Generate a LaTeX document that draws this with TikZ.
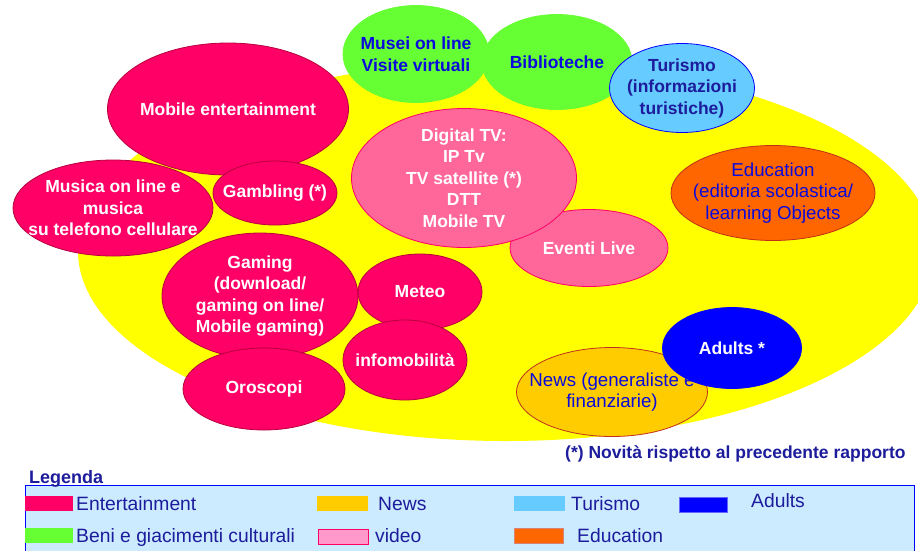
\documentclass[tikz,border=0pt]{standalone}
\usepackage{fontspec}
\setmainfont{Liberation Sans}
\usetikzlibrary{shapes.geometric}

\definecolor{ent}{HTML}{FF0066}
\definecolor{entline}{HTML}{B8003C}
\definecolor{vid}{HTML}{FF6699}
\definecolor{vidlight}{HTML}{FF99CC}
\definecolor{cult}{HTML}{66FF33}
\definecolor{tur}{HTML}{66CCFF}
\definecolor{edu}{HTML}{FF6600}
\definecolor{eduline}{HTML}{C0301A}
\definecolor{news}{HTML}{FFCC00}
\definecolor{newsline}{HTML}{C03020}
\definecolor{adu}{HTML}{0000FF}
\definecolor{field}{HTML}{FFFF00}
\definecolor{inkblue}{HTML}{0A0ADC}
\definecolor{navy}{HTML}{1C1C9C}
\definecolor{legfill}{HTML}{CCEBFF}

\newcommand\bubtext{\fontsize{17.5}{21.5}\selectfont\bfseries}
\newcommand\bubplain{\fontsize{18.7}{21.2}\selectfont}
\newcommand\legtext{\fontsize{19.3}{20}\selectfont}

% bubble: style, name, centre, width, height, text
\newcommand\bubble[6]{%
  \node[#1, esize={#4}{#5}] (#2) at (#3) {};
  \node[#1, draw=none, fill=none, minimum width=0pt, minimum height=0pt]
    (#2-text) at (#2.center) {#6};}

\begin{document}
\begin{tikzpicture}[x=1pt,y=-1pt,
  bub/.style={ellipse, inner sep=0pt, outer sep=0pt, align=center, font=\bubtext, line width=0.8pt},
  esize/.style 2 args={minimum width=#1pt, minimum height=#2pt},
  entb/.style={bub, fill=ent, draw=entline, text=white},
  vidb/.style={bub, fill=vid, draw=ent, text=white},
  cultb/.style={bub, fill=cult, draw=cult, text=inkblue},
  turb/.style={bub, fill=tur, draw=adu, text=navy},
  edub/.style={bub, fill=edu, draw=eduline, text=inkblue, font=\bubplain},
  newsb/.style={bub, fill=news, draw=newsline, text=inkblue, font=\bubplain},
  adub/.style={bub, fill=adu, draw=adu, text=white},
  swatch/.style={rectangle, inner sep=0pt, minimum width=48pt, minimum height=15pt, anchor=north west},
  legitem/.style={anchor=base west, inner sep=0pt, font=\legtext, text=navy}]

\useasboundingbox (0,0) rectangle (918,550);
\fill[white] (0,0) rectangle (918,550);

% yellow field behind the bubbles
\begin{scope}
  \clip (0,0) rectangle (918,550);
  \fill[field] (506,251) ellipse [x radius=428, y radius=190];
\end{scope}

% entertainment bubbles
\bubble{entb}{mobile}{228,109}{241}{132}{Mobile entertainment}
\bubble{entb}{musica}{113,208}{200}{96}{Musica on line e\\musica\\su telefono cellulare}
\bubble{entb}{gambling}{275,193}{124}{64}{Gambling (*)}
\bubble{entb}{gaming}{260,296}{196}{126}{Gaming\\(download/\\gaming on line/\\Mobile gaming)}
\bubble{entb}{meteo}{420,292}{124}{76}{Meteo}
\bubble{entb}{infomob}{405,360}{124}{80}{infomobilità}
\bubble{entb}{oroscopi}{264,389}{162}{82}{Oroscopi}

% cultural heritage bubbles
\bubble{cultb}{musei}{416,54}{146}{97}{Musei on line\\Visite virtuali}
\bubble{cultb}{biblio}{557,62}{150}{95}{Biblioteche}

% tourism
\bubble{turb}{turismo}{682,88}{145}{89}{Turismo\\(informazioni\\turistiche)}

% education
\bubble{edub}{education}{773,193}{204}{95}{Education\\(editoria scolastica/\\learning Objects}

% video
\bubble{vidb}{eventi}{589,248}{158}{77}{Eventi Live}
\bubble{vidb}{digitaltv}{464,178}{225}{139}{Digital TV:\\IP Tv\\TV satellite (*)\\DTT\\Mobile TV}

% news and adults
\bubble{newsb}{newsbub}{612,392}{191}{89}{News (generaliste e\\finanziarie)}
\bubble{adub}{adults}{732,348}{139}{81}{Adults *}

% footnote
\node[anchor=base west, inner sep=0pt, font=\bubtext, text=navy] (note) at (565,458)
  {(*) Novità rispetto al precedente rapporto};

% legend
\node[draw=adu, fill=legfill, line width=1pt, anchor=north west, inner sep=0pt,
      minimum width=889pt, minimum height=80pt] (legbox) at (24.6,485) {};
\node[anchor=base west, inner sep=0pt, font=\fontsize{18}{18}\selectfont\bfseries, text=navy]
  (legtitle) at (29,483) {Legenda};

\node[swatch, fill=ent] (swent) at (24.6,496) {};
\node[legitem] (lent) at (76,510) {Entertainment};
\node[swatch, fill=news, minimum width=51pt] (swnews) at (317,496) {};
\node[legitem] (lnews) at (378,510) {News};
\node[swatch, fill=tur, minimum width=51pt] (swtur) at (514,496) {};
\node[legitem] (ltur) at (571,510) {Turismo};
\node[swatch, fill=adu, draw=adu!60, line width=1pt] (swadu) at (679,497) {};
\node[legitem] (ladu) at (751,507) {Adults};

\node[swatch, fill=cult] (swcult) at (24.6,528) {};
\node[legitem] (lcult) at (76,542) {Beni e giacimenti culturali};
\node[swatch, fill=vidlight, draw=ent, line width=1pt, minimum width=50pt] (swvid) at (318,529) {};
\node[legitem] (lvid) at (375,542) {video};
\node[swatch, fill=edu, draw=eduline!60, line width=0.6pt, minimum width=49pt] (swedu) at (514,528) {};
\node[legitem] (ledu) at (577,542) {Education};
\end{tikzpicture}
\end{document}
